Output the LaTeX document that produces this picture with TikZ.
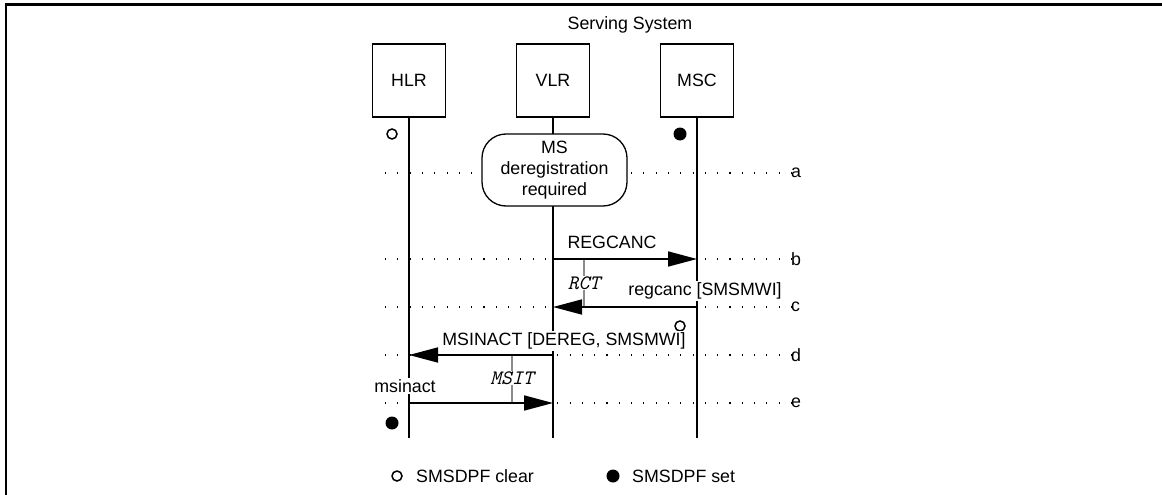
\documentclass[tikz,border=0pt]{standalone}
\usepackage{fontspec}
\setmainfont{Liberation Sans}
\usetikzlibrary{arrows.meta}

\newcommand{\msgfont}{\fontsize{17.8}{21}\selectfont}

\tikzset{
  entity/.style={draw, line width=1.3pt, minimum width=73pt, minimum height=73pt, inner sep=0pt},
  cond/.style={draw, fill=white, line width=1.3pt, rounded corners=24pt, minimum width=145pt, minimum height=72pt, align=center, inner sep=0pt},
  life/.style={line width=1.8pt},
  msg/.style={line width=1.6pt, -{Triangle[length=29pt,width=15pt]}},
  dotline/.style={line width=1.1pt, dash pattern=on 1.1pt off 11.2pt},
  timer/.style={line width=1.8pt, black!45},
  lbl/.style={fill=white, inner sep=1.5pt},
  tmr/.style={fill=white, inner sep=1pt, font=\fontsize{20.5}{23}\selectfont\ttfamily\itshape},
  flagoff/.style={circle, draw, line width=1.5pt, minimum size=10pt, inner sep=0pt},
  flagon/.style={circle, fill, minimum size=13pt, inner sep=0pt}
}

\begin{document}
\begin{tikzpicture}[x=1pt, y=-1pt, every node/.style={font=\msgfont}]
    \useasboundingbox (0,0) rectangle (1162,495);
    \draw[line width=2.4pt] (6,495) -- (6,4.5) -- (1162,4.5);

    \node (sys) at (630, 25) {Serving System};

    % entities
    \node[entity] (hlr) at (409, 80.5) {HLR};
    \node[entity] (vlr) at (553, 80.5) {VLR};
    \node[entity] (msc) at (697, 80.5) {MSC};
    \coordinate (bot) at (0, 438);

    % rows
    \coordinate (ra) at (385, 173);
    \coordinate (rb) at (385, 259);
    \coordinate (rc) at (385, 307);
    \coordinate (rd) at (385, 355);
    \coordinate (re) at (385, 403);
    \node[anchor=west, inner sep=0pt] (la) at (791, 173) {a};
    \node[anchor=west, inner sep=0pt] (lb) at (791, 259) {b};
    \node[anchor=west, inner sep=0pt] (lc) at (791, 307) {c};
    \node[anchor=west, inner sep=0pt] (ld) at (791, 355) {d};
    \node[anchor=west, inner sep=0pt] (le) at (791, 403) {e};
    \draw[dotline] (ra) -- (la.west);
    \draw[dotline] (rb) -- (lb.west);
    \draw[dotline] (rc) -- (lc.west);
    \draw[dotline] (rd) -- (ld.west);
    \draw[dotline] (re) -- (le.west);

    % lifelines
    \draw[life] (hlr.south) -- (hlr.south |- bot);
    \draw[life] (vlr.south) -- (vlr.south |- bot);
    \draw[life] (msc.south) -- (msc.south |- bot);

    \node[cond] (dereg) at (554.5, 170) {MS\\deregistration\\required};

    % flags
    \node[flagoff] (f1) at (392, 134) {};
    \node[flagon] (f2) at (680, 134) {};
    \node[flagoff] (f3) at (680, 326) {};
    \node[flagon] (f4) at (392, 423) {};

    % timers
    \node (rct) at (584, 283) {};
    \node (msit) at (512, 378) {};
    \draw[timer] (rct |- rb) -- (rct |- rc);
    \draw[timer] (msit |- rd) -- (msit |- re);
    \node[tmr] at (rct) {RCT};
    \node[tmr] at (msit) {MSIT};

    % messages
    \draw[msg] (vlr |- rb) -- (msc |- rb);
    \draw[msg] (msc |- rc) -- (vlr |- rc);
    \draw[msg] (vlr |- rd) -- (hlr |- rd);
    \draw[msg] (hlr |- re) -- (vlr |- re);
    \node[lbl] (m1) at (612, 242) {REGCANC};
    \node[lbl] (m2) at (705, 291) {regcanc [SMSMWI]};
    \node[lbl] (m3) at (564, 341) {MSINACT [DEREG, SMSMWI]};
    \node[lbl] (m4) at (405, 386) {msinact};

    % legend
    \node[flagoff] (k1) at (397, 476) {};
    \node[anchor=west, inner sep=0pt] (k1t) at (416, 476) {SMSDPF clear};
    \node[flagon] (k2) at (613, 476) {};
    \node[anchor=west, inner sep=0pt] (k2t) at (632, 476) {SMSDPF set};
\end{tikzpicture}
\end{document}
